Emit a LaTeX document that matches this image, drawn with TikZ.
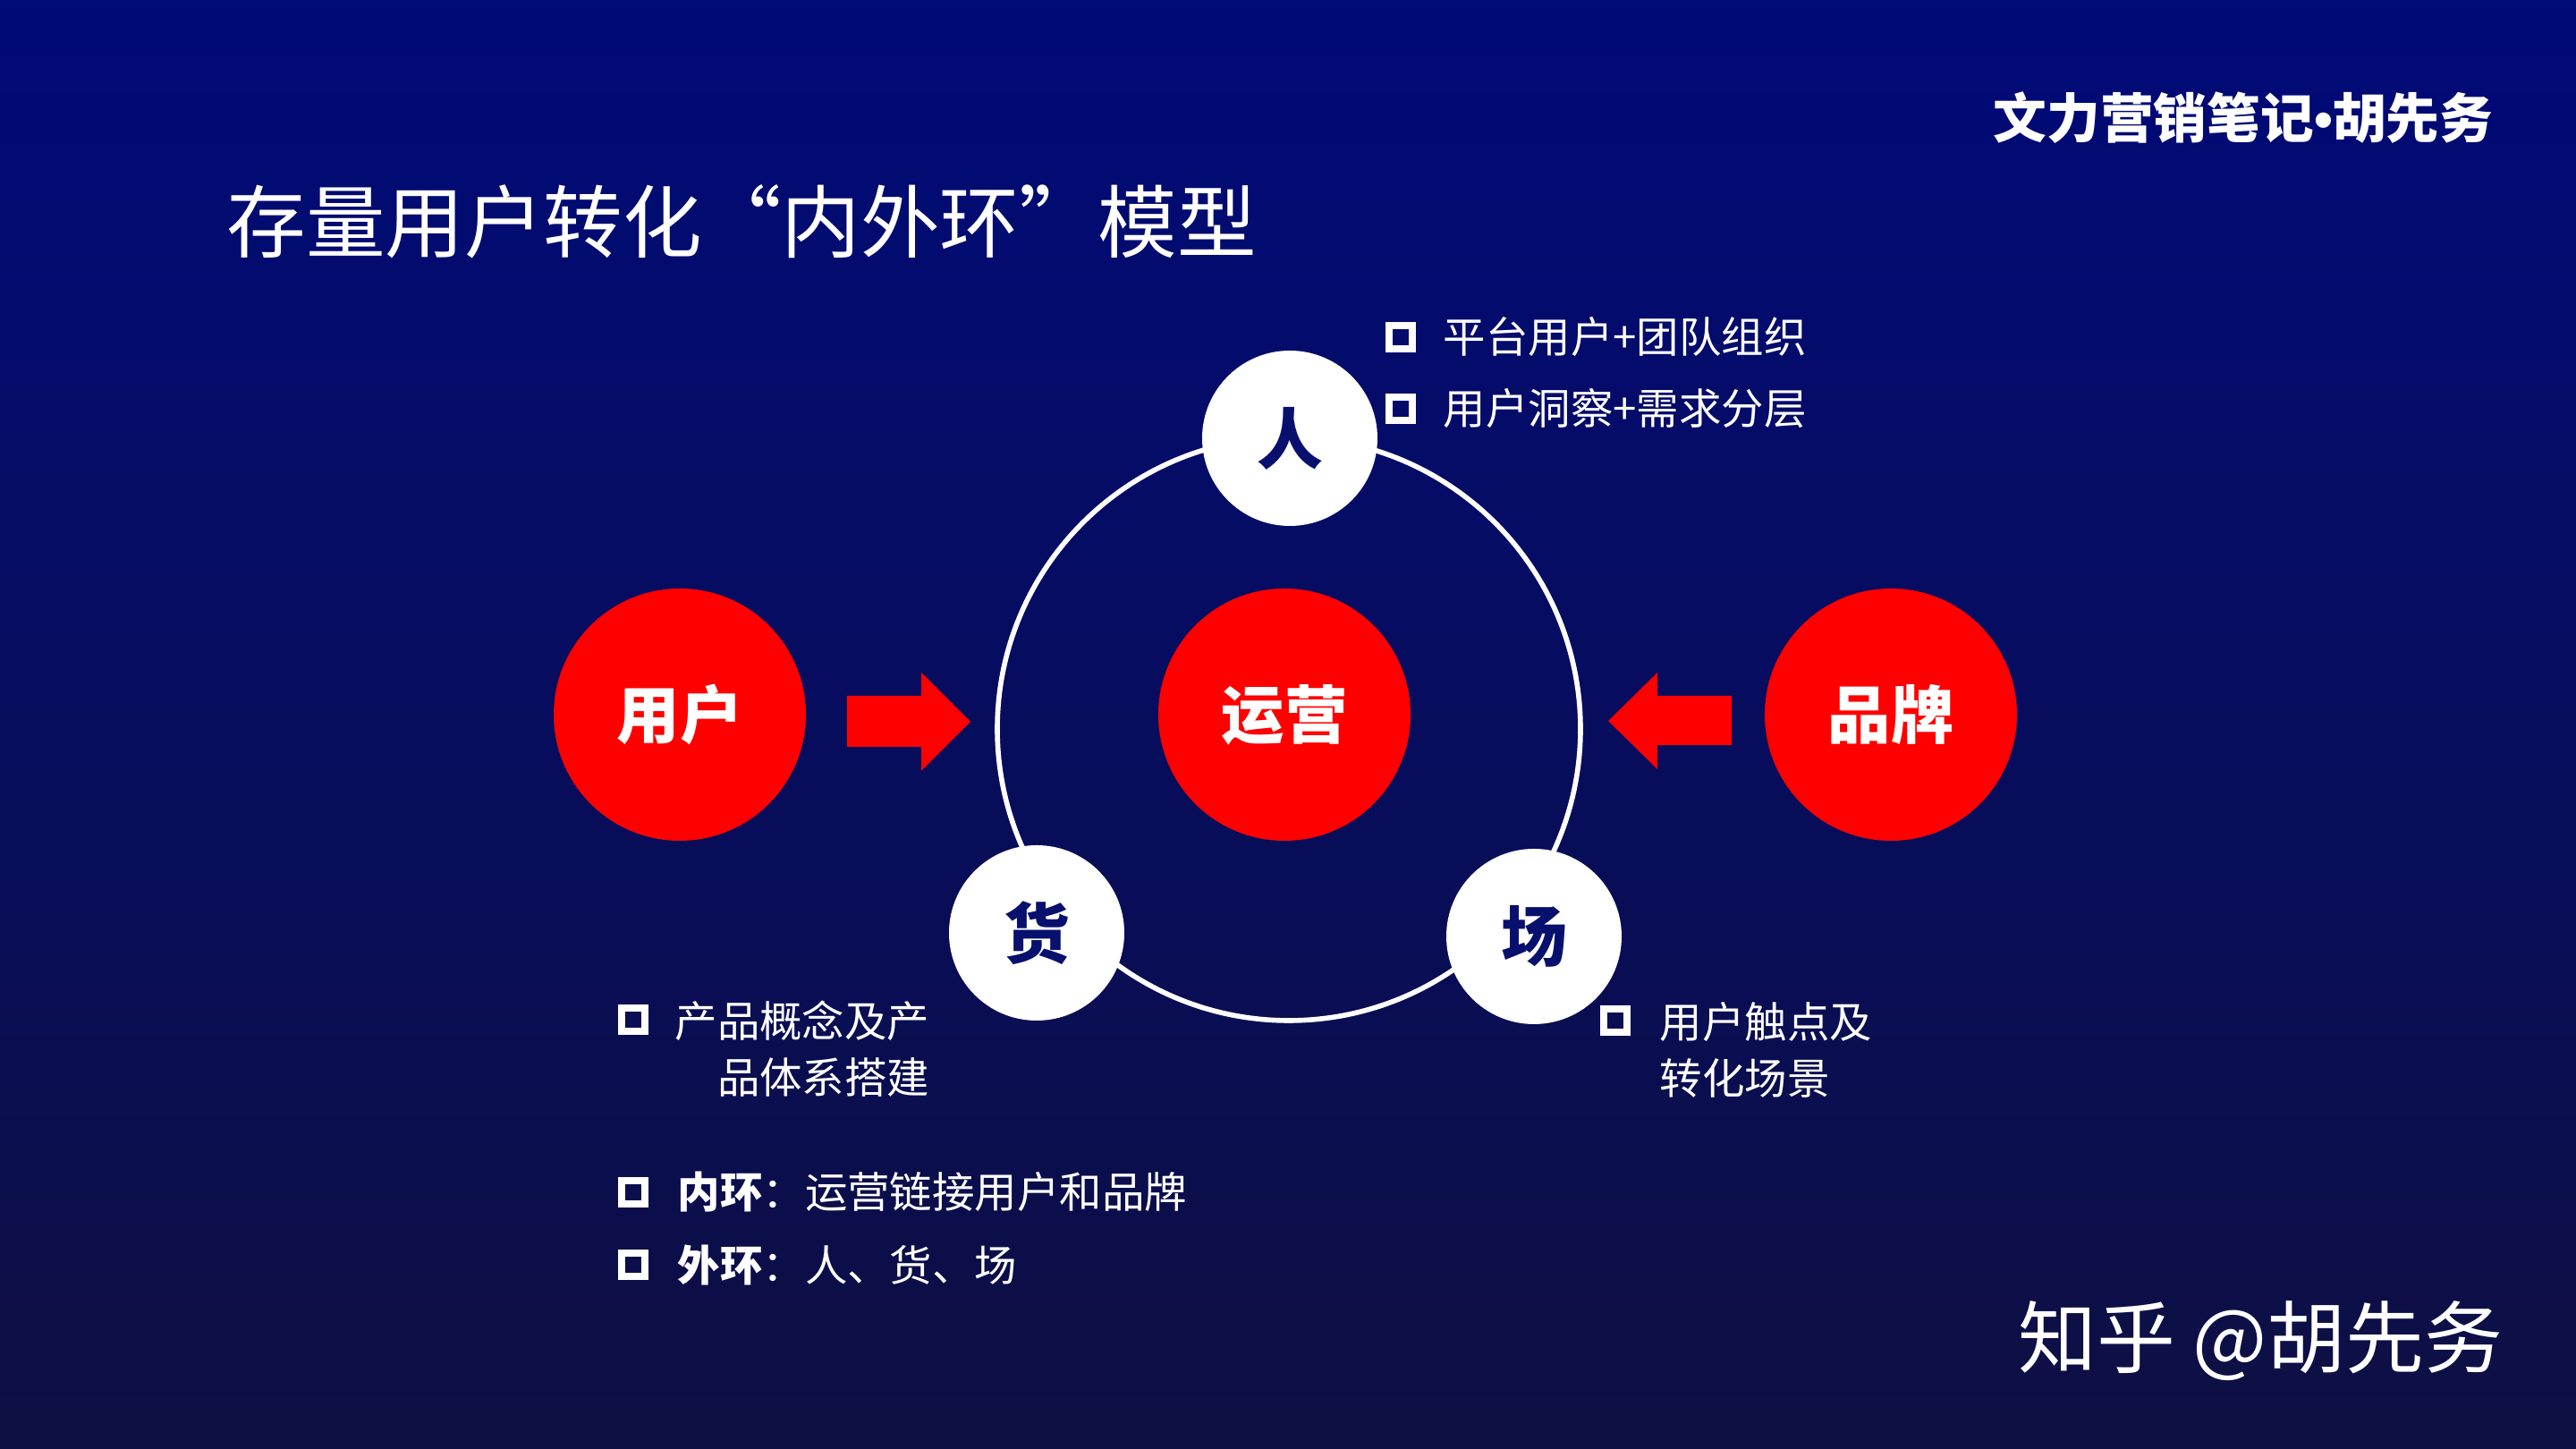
\documentclass[tikz,border=0pt]{standalone}
\usepackage{fontspec}
\setmainfont{Noto Sans CJK SC}
\newfontfamily\latinfont{Liberation Sans}
\definecolor{bgtop}{RGB}{0,10,120}
\definecolor{bgmid}{RGB}{0,6,106}
\definecolor{bgbot}{RGB}{14,15,66}
\definecolor{navy}{RGB}{8,16,110}
\definecolor{brightred}{RGB}{255,0,0}
\begin{document}
\begin{tikzpicture}[x=1cm,y=1cm,
  redball/.style={circle, fill=brightred, minimum size=2.82cm, inner sep=0pt, text=white, font=\fontsize{20}{24}\selectfont\bfseries},
  whiteball/.style={circle, fill=white, minimum size=1.96cm, inner sep=0pt, text=navy, font=\fontsize{21}{25}\selectfont\bfseries},
  bulletbox/.style={draw=white, line width=0.085cm, minimum size=0.26cm, inner sep=0pt, outer sep=0pt},
  bullettext/.style={text=white, font=\fontsize{13.5}{17.9}\selectfont, inner sep=0pt},
  blockarrow/.style={fill=brightred},
  ringline/.style={draw=white, line width=1.6pt}]
\useasboundingbox (0,0) rectangle (28.8,16.2);
\shade[top color=bgtop, middle color=bgmid, bottom color=bgbot] (0,0) rectangle (28.8,16.2);

% titles
\node[anchor=west, text=white, font=\fontsize{25.2}{30}\selectfont, inner sep=0pt] (title) at (2.53,13.72) {存量用户转化“内外环”模型};
\node[anchor=east, text=white, font=\fontsize{17}{20}\selectfont\bfseries, inner sep=0pt] (brand) at (27.88,14.88) {文力营销笔记{\latinfont\bfseries •}胡先务};

% outer ring
\coordinate (ringc) at (14.41,8.05);
\draw[ringline] (ringc) circle[radius=3.26];

% outer ring nodes
\node[whiteball] (ren) at (14.42,11.30) {人};
\node[whiteball] (huo) at (11.59,5.77) {货};
\node[whiteball] (chang) at (17.15,5.73) {场};

% red nodes
\node[redball] (user) at (7.60,8.21) {用户};
\node[redball] (ops) at (14.36,8.21) {运营};
\node[redball] (pinpai) at (21.14,8.21) {品牌};

% block arrows
\fill[blockarrow] (9.47,8.42) -- (10.30,8.42) -- (10.30,8.68) -- (10.85,8.13) -- (10.30,7.58) -- (10.30,7.85) -- (9.47,7.85) -- cycle;
\fill[blockarrow] (19.36,8.42) -- (18.53,8.42) -- (18.53,8.68) -- (17.98,8.14) -- (18.53,7.60) -- (18.53,7.87) -- (19.36,7.87) -- cycle;

% bullets for ren
\node[bulletbox] (b1) at (15.66,12.43) {};
\node[bullettext, anchor=west] (t1) at (16.13,12.43) {平台用户+团队组织};
\node[bulletbox] (b2) at (15.66,11.63) {};
\node[bullettext, anchor=west] (t2) at (16.13,11.63) {用户洞察+需求分层};

% bullets for huo
\node[bulletbox] (b3) at (7.08,4.80) {};
\node[bullettext, anchor=east, align=right] (t3) at (10.40,4.47) {产品概念及产\\品体系搭建};

% bullets for chang
\node[bulletbox] (b4) at (18.06,4.79) {};
\node[bullettext, anchor=west, align=left] (t4) at (18.55,4.46) {用户触点及\\转化场景};

% summary bullets
\node[bulletbox] (b5) at (7.08,2.87) {};
\node[bullettext, anchor=west] (t5) at (7.57,2.87) {\bfseries 内环\mdseries：运营链接用户和品牌};
\node[bulletbox] (b6) at (7.08,2.06) {};
\node[bullettext, anchor=west] (t6) at (7.57,2.06) {\bfseries 外环\mdseries：人、货、场};

% watermark
\node[anchor=east, text=white, font=\fontsize{25}{30}\selectfont, inner sep=0pt] (wm) at (27.99,1.21) {知乎 @胡先务};
\end{tikzpicture}
\end{document}
